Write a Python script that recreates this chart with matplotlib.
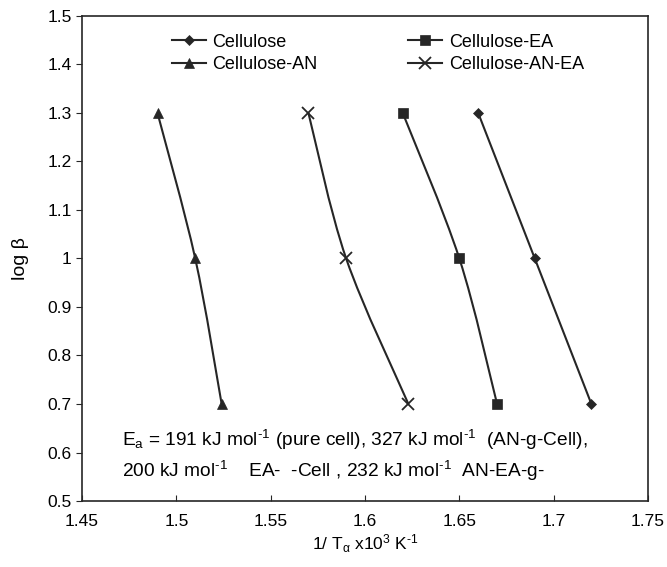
import numpy as np
import matplotlib.pyplot as plt
from matplotlib.path import Path
from matplotlib.patches import PathPatch

plt.rcParams['font.family'] = ['Liberation Sans', 'DejaVu Sans']
plt.rcParams['mathtext.fontset'] = 'custom'
plt.rcParams['mathtext.rm'] = 'Liberation Sans'
plt.rcParams['mathtext.it'] = 'Liberation Sans'

# data
log_beta = [1.3, 1.0, 0.7]
x_cellulose = [1.660, 1.690, 1.720]
x_cell_ea = [1.620, 1.650, 1.670]
x_cell_an = [1.490, 1.510, 1.524]
x_cell_an_ea = [1.570, 1.590, 1.623]

series_names = ['Cellulose', 'Cellulose-AN', 'Cellulose-EA', 'Cellulose-AN-EA']
series_x = [x_cellulose, x_cell_an, x_cell_ea, x_cell_an_ea]
series_markers = ['D', '^', 's', 'x']
series_msize = [5.5, 7, 6.5, 8]

x_ticks = [1.45, 1.5, 1.55, 1.6, 1.65, 1.7, 1.75]
x_tick_labels = ['1.45', '1.5', '1.55', '1.6', '1.65', '1.7', '1.75']
y_ticks = [0.5, 0.6, 0.7, 0.8, 0.9, 1.0, 1.1, 1.2, 1.3, 1.4, 1.5]
y_tick_labels = ['0.5', '0.6', '0.7', '0.8', '0.9', '1', '1.1', '1.2', '1.3', '1.4', '1.5']

color = '#262626'


def smooth_path(xs, ys):
    # Excel-style smoothed line: cubic Bezier segments through the points
    pts = np.column_stack([xs, ys])
    n = len(pts)
    verts = [pts[0]]
    codes = [Path.MOVETO]
    for i in range(n - 1):
        p0 = pts[max(i - 1, 0)]
        p1 = pts[i]
        p2 = pts[i + 1]
        p3 = pts[min(i + 2, n - 1)]
        c1 = p1 + (p2 - p0) / 6.0
        c2 = p2 - (p3 - p1) / 6.0
        verts += [c1, c2, p2]
        codes += [Path.CURVE4] * 3
    return Path(verts, codes)


fig = plt.figure(figsize=(6.67, 5.67), dpi=100)
ax = fig.add_axes([0.123, 0.1164, 0.8485, 0.8554])

for name, xs, mk, ms in zip(series_names, series_x, series_markers, series_msize):
    ax.add_patch(PathPatch(smooth_path(xs, log_beta), facecolor='none',
                           edgecolor=color, lw=1.5))
    mew = 1.3 if mk == 'x' else 0.5
    ax.plot(xs, log_beta, linestyle='none', color=color, marker=mk,
            markersize=ms, markeredgewidth=mew, label=name)

# legend handles with lines
handles = [plt.Line2D([], [], color=color, lw=1.5, marker=mk, markersize=ms,
                      markeredgewidth=(1.3 if mk == 'x' else 0.5))
           for mk, ms in zip(series_markers, series_msize)]
ax.legend(handles, series_names, ncol=2, loc='upper left',
          bbox_to_anchor=(0.13, 0.997), frameon=False, fontsize=13,
          handlelength=1.9, handletextpad=0.35, columnspacing=5.0,
          labelspacing=0.3)

ax.set_xlim(1.45, 1.75)
ax.set_ylim(0.5, 1.5)
ax.set_xticks(x_ticks)
ax.set_xticklabels(x_tick_labels)
ax.set_yticks(y_ticks)
ax.set_yticklabels(y_tick_labels)
ax.tick_params(axis='x', direction='in', length=4, labelsize=12.5, pad=9, color=color)
ax.tick_params(axis='y', direction='out', length=4, labelsize=12.5, color=color)
for sp in ax.spines.values():
    sp.set_color(color)
    sp.set_linewidth(1.2)

ax.set_xlabel(r'1/ T$_{\mathrm{α}}$ x10$^{3}$ K$^{\text{-}1}$', fontsize=12.5, labelpad=3)
ax.set_ylabel('log β', fontsize=14, labelpad=13)

ax.text(1.471, 0.626,
        r'E$_{\mathrm{a}}$ = 191 kJ mol$^{\text{-}1}$ (pure cell), 327 kJ mol$^{\text{-}1}$  (AN-g-Cell),',
        fontsize=13.8, va='center', ha='left')
ax.text(1.471, 0.561,
        r'200 kJ mol$^{\text{-}1}$    EA-  -Cell , 232 kJ mol$^{\text{-}1}$  AN-EA-g-',
        fontsize=13.8, va='center', ha='left')

fig.savefig('out.png', dpi=100)
